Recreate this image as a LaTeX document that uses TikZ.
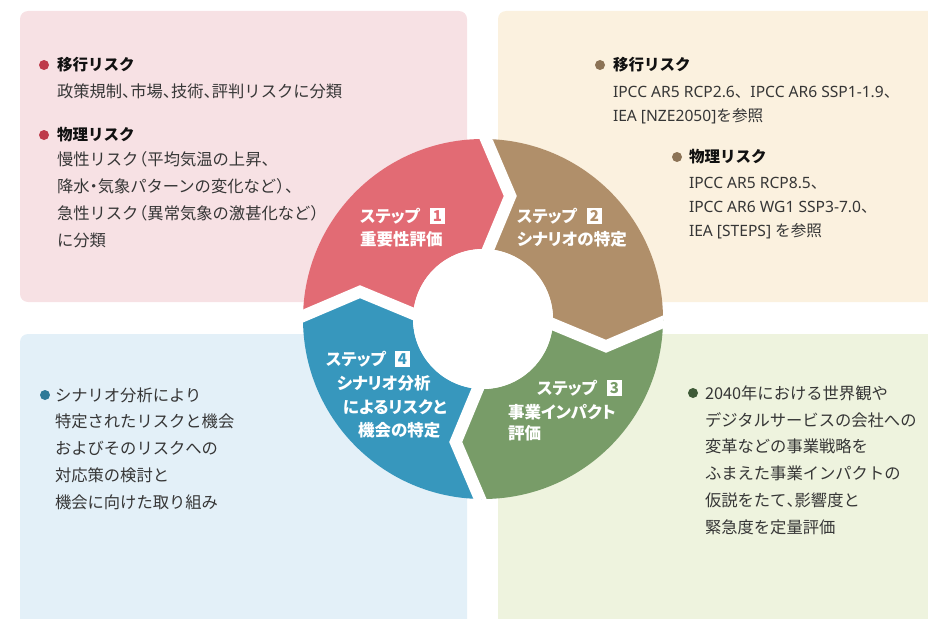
\documentclass[tikz,border=0pt]{standalone}
\usepackage{fontspec}
\setmainfont{Noto Sans CJK JP}
\newfontfamily\pfont[RawFeature=+palt]{Noto Sans CJK JP}
\newfontfamily\lat{Noto Sans}
\definecolor{bgpink}{HTML}{F7E1E4}
\definecolor{bgbeige}{HTML}{FBF1DF}
\definecolor{bgblue}{HTML}{E3F0F8}
\definecolor{bggreen}{HTML}{EEF3DE}
\definecolor{segred}{HTML}{E26B74}
\definecolor{segbrown}{HTML}{B08F6A}
\definecolor{seggreen}{HTML}{789C68}
\definecolor{segblue}{HTML}{3797BD}
\definecolor{bulred}{HTML}{BE3A4A}
\definecolor{bulbrown}{HTML}{8C7356}
\definecolor{bulblue}{HTML}{2E7A98}
\definecolor{bulgreen}{HTML}{3F5A37}
\definecolor{bodytext}{HTML}{363636}
\definecolor{headtext}{HTML}{111111}
\newcommand\sst{\rule{0pt}{0.88em}}
\newcommand\ten{\makebox[0.5em][l]{、}}
\newcommand\po{\makebox[0.55em][r]{（}}
\newcommand\pc{\makebox[0.55em][l]{）}}
\newcommand\nak{\makebox[0.5em][c]{・}}
\tikzset{
  bodyA/.style={anchor=north west, inner sep=0, outer sep=0, align=left, text=bodytext, font=\fontsize{16.3}{27}\selectfont},
  bodyB/.style={anchor=north west, inner sep=0, outer sep=0, align=left, text=bodytext, font=\fontsize{15.6}{23.8}\selectfont},
  head/.style={anchor=north west, inner sep=0, outer sep=0, text=headtext, font=\bfseries\fontsize{15.5}{20}\selectfont},
  steptxt/.style={anchor=north west, inner sep=0, outer sep=0, align=left, text=white, font=\pfont\bfseries\fontsize{16.5}{23}\selectfont},
  numbox/.style={fill=white, minimum width=15.5, minimum height=15.5, inner sep=0, font=\bfseries\fontsize{15}{15}\selectfont},
  bullet/.style={circle, minimum size=10, inner sep=0}
}
\begin{document}
\begin{tikzpicture}[x=1pt,y=-1pt]
\useasboundingbox (0,0) rectangle (928,618);
\clip (0,0) rectangle (928,618);
% backgrounds
\fill[bgpink, rounded corners=8] (20,11) rectangle (467,302);
\fill[bgbeige, rounded corners=8] (498,11) rectangle (945,302);
\fill[bgblue, rounded corners=8] (20,334) rectangle (467,640);
\fill[bggreen, rounded corners=8] (498,334) rectangle (945,640);
% ring
\begin{scope}[shift={(483,319)}, yscale=-1]
  \fill[segred] (181:180) arc[start angle=181, end angle=91, radius=180] -- (77.5:126) -- (91:70) arc[start angle=91, end angle=181, radius=70] -- (167.5:126) -- cycle;
  \fill[segbrown] (91:180) arc[start angle=91, end angle=1, radius=180] -- (-12.5:126) -- (1:70) arc[start angle=1, end angle=91, radius=70] -- (77.5:126) -- cycle;
  \fill[seggreen] (1:180) arc[start angle=1, end angle=-89, radius=180] -- (-102.5:126) -- (-89:70) arc[start angle=-89, end angle=1, radius=70] -- (-12.5:126) -- cycle;
  \fill[segblue] (-89:180) arc[start angle=-89, end angle=-179, radius=180] -- (-192.5:126) -- (-179:70) arc[start angle=-179, end angle=-89, radius=70] -- (-102.5:126) -- cycle;
  \begin{scope}
    \clip (0,0) circle (180);
    \foreach \a in {91,1,-89,-179}
      \draw[white, line width=12] (\a:195) -- (\a-13.5:126) -- (\a:55);
  \end{scope}
  \fill[white] (0,0) circle (70);
\end{scope}
% step labels
\node[steptxt] (s1) at (360,207.75) {\sst ステップ\\重要性評価};
\node[numbox, text=segred] (n1) at (437.5,216) {1};
\node[steptxt] (s2) at (517,207.75) {\sst ステップ\\シナリオの特定};
\node[numbox, text=segbrown] (n2) at (594.5,216) {2};
\node[steptxt] (s3a) at (537,379.75) {\sst ステップ};
\node[numbox, text=seggreen] (n3) at (614.5,388) {3};
\node[steptxt, font=\pfont\bfseries\fontsize{16.5}{21.5}\selectfont] (s3b) at (508,403.75) {\sst 事業インパクト\\評価};
\node[steptxt] (s4a) at (326,350.75) {\sst ステップ};
\node[numbox, text=segblue] (n4) at (402.5,359) {4};
\node[steptxt] (s4b) at (337,374.75) {\sst シナリオ分析};
\node[steptxt] (s4c) at (343,398.75) {\sst によるリスクと};
\node[steptxt] (s4d) at (358,421.75) {\sst 機会の特定};
% pink box
\node[bullet, fill=bulred] (pb1) at (44,65) {};
\node[head] (ph1) at (57,57.25) {\sst 移行リスク};
\node[bodyA] (pt1) at (57,82.85) {\sst 政策規制\ten 市場\ten 技術\ten 評判リスクに分類};
\node[bullet, fill=bulred] (pb2) at (44,135) {};
\node[head] (ph2) at (57,127.25) {\sst 物理リスク};
\node[bodyA] (pt2) at (57,150.85) {\sst 慢性リスク\po 平均気温の上昇\ten\\降水\nak 気象パターンの変化など\pc\ten\\急性リスク\po 異常気象の激甚化など\pc\\に分類};
% beige box
\node[bullet, fill=bulbrown] (bb1) at (600,65) {};
\node[head] (bh1) at (613,57.25) {\sst 移行リスク};
\node[bodyB] (bt1) at (613,84.25) {\sst {\lat IPCC AR5 RCP2.6}、{\lat IPCC AR6 SSP1-1.9}、\\{\lat IEA [NZE2050]}を参照};
\node[bullet, fill=bulbrown] (bb2) at (677,157) {};
\node[head] (bh2) at (689,149.25) {\sst 物理リスク};
\node[bodyB] (bt2) at (689,175.25) {\sst {\lat IPCC AR5 RCP8.5}、\\{\lat IPCC AR6 WG1 SSP3-7.0}、\\{\lat IEA [STEPS] }を参照};
% blue box
\node[bullet, fill=bulblue] (ub1) at (45,395) {};
\node[bodyA, font=\fontsize{16.3}{26.75}\selectfont] (ut1) at (55,386.85) {\sst シナリオ分析により\\特定されたリスクと機会\\およびそのリスクへの\\対応策の検討と\\機会に向けた取り組み};
% green box
\node[bullet, fill=bulgreen] (gb1) at (693,393) {};
\node[bodyA, font=\fontsize{16.3}{26.8}\selectfont] (gt1) at (705,384.85) {\sst 2040年における世界観や\\デジタルサービスの会社への\\変革などの事業戦略を\\ふまえた事業インパクトの\\仮説をたて\ten 影響度と\\緊急度を定量評価};
\end{tikzpicture}
\end{document}
